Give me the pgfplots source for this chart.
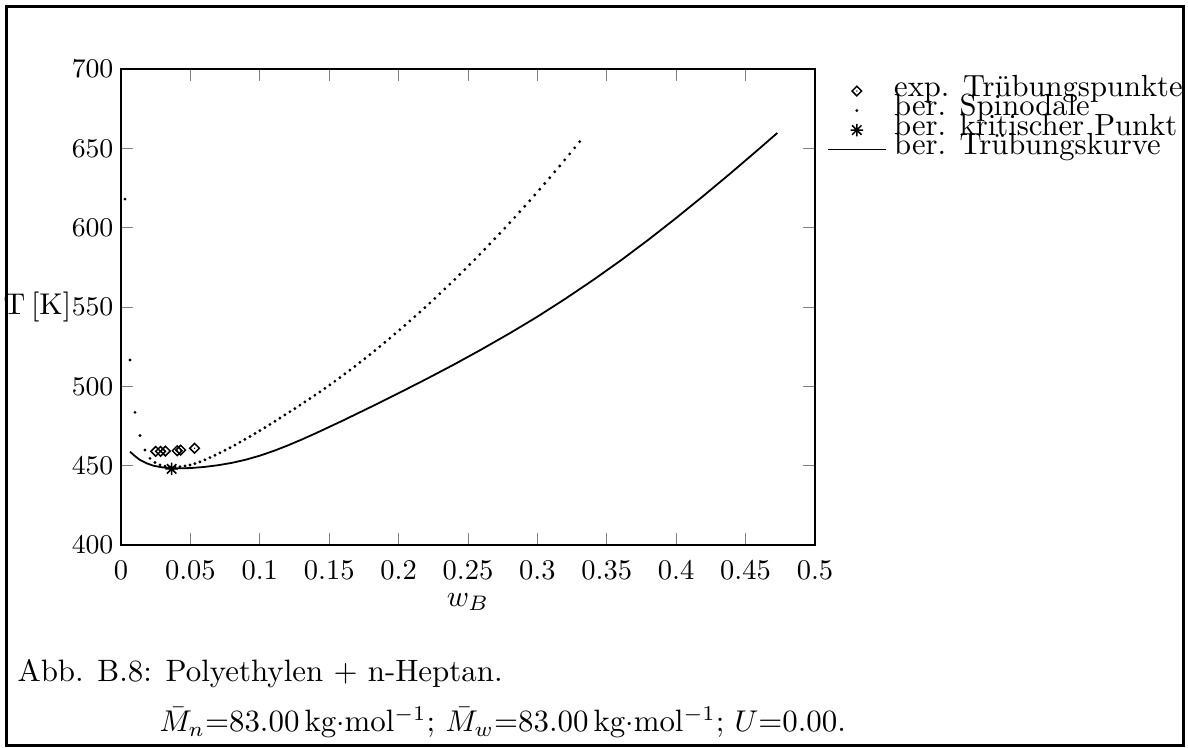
\documentclass[border=0pt]{standalone}
\usepackage{fontspec}
\usepackage{pgfplots}
\pgfplotsset{compat=1.18}

% gnuplot-like point types
\pgfdeclareplotmark{gpdiamond}{%
  \pgfpathmoveto{\pgfqpoint{0pt}{\pgfplotmarksize}}%
  \pgfpathlineto{\pgfqpoint{\pgfplotmarksize}{0pt}}%
  \pgfpathlineto{\pgfqpoint{0pt}{-\pgfplotmarksize}}%
  \pgfpathlineto{\pgfqpoint{-\pgfplotmarksize}{0pt}}%
  \pgfpathclose
  \pgfusepathqstroke
  \pgfpathcircle{\pgfpointorigin}{0.25pt}%
  \pgfusepathqfill}
\pgfdeclareplotmark{gpstar}{%
  \pgfpathmoveto{\pgfqpoint{-\pgfplotmarksize}{0pt}}\pgfpathlineto{\pgfqpoint{\pgfplotmarksize}{0pt}}%
  \pgfpathmoveto{\pgfqpoint{0pt}{-\pgfplotmarksize}}\pgfpathlineto{\pgfqpoint{0pt}{\pgfplotmarksize}}%
  \pgfpathmoveto{\pgfqpoint{-.75\pgfplotmarksize}{-.75\pgfplotmarksize}}\pgfpathlineto{\pgfqpoint{.75\pgfplotmarksize}{.75\pgfplotmarksize}}%
  \pgfpathmoveto{\pgfqpoint{-.75\pgfplotmarksize}{.75\pgfplotmarksize}}\pgfpathlineto{\pgfqpoint{.75\pgfplotmarksize}{-.75\pgfplotmarksize}}%
  \pgfusepathqstroke}

\begin{document}
\begin{tikzpicture}
\useasboundingbox (0,0) rectangle (396pt,-249.33pt);
\draw[line width=1pt] (2.2pt,-2.2pt) rectangle (394.6pt,-248.6pt);
\begin{axis}[
  at={(40.33pt,-181.67pt)}, anchor=south west,
  scale only axis, width=231.33pt, height=158.67pt,
  xmin=0, xmax=0.5, ymin=400, ymax=700,
  xtick={0,0.05,0.1,0.15,0.2,0.25,0.3,0.35,0.4,0.45,0.5},
  xticklabels={0,0.05,0.1,0.15,0.2,0.25,0.3,0.35,0.4,0.45,0.5},
  ytick={400,450,500,550,600,650,700},
  tick align=inside, major tick length=4pt,
  tick label style={font=\fontsize{9.5}{11}\selectfont},
  xticklabel style={yshift=-1.5pt},
  yticklabel style={xshift=1pt},
  xlabel={$w_B$}, ylabel={T\hspace{0.2em}[K]},
  xlabel style={font=\fontsize{10}{12}\selectfont},
  ylabel style={font=\fontsize{8.5}{10}\selectfont},
  every axis x label/.style={at={(axis description cs:0.5,0)}, anchor=center, yshift=-19pt},
  every axis y label/.style={at={(axis description cs:0,0.5)}, anchor=east, xshift=-16.4pt, inner sep=0pt},
  legend style={at={(axis description cs:1,1)}, anchor=north west, xshift=4pt, yshift=-4.1pt,
    draw=none, fill=none, inner sep=0pt, outer sep=0pt, row sep=0pt, column sep=2.5pt,
    font=\fontsize{10.2}{12}\selectfont,
    nodes={inner sep=0pt, text height=5pt, text depth=1.5pt}},
  legend cell align=left,
  legend image code/.code={\draw[mark repeat=2,mark phase=2,#1] plot coordinates {(0pt,0pt) (9.65pt,0pt) (19.3pt,0pt)};},
]
% exp. cloud points
\addplot[only marks, mark=gpdiamond, mark size=1.6pt, line width=0.5pt] coordinates {
  (0.025,459.0) (0.0285,459.0) (0.032,459.2) (0.0405,459.4) (0.043,459.8) (0.053,461.0)};
\addlegendentry{exp. Trübungspunkte}
% spinodal
\addplot[only marks, mark=*, mark size=0.25pt] coordinates {
  (0.0029,618) (0.0065,516.6) (0.0101,483.6) (0.0137,469.0) (0.0173,459.9) (0.0209,454.6)
  (0.0245,452.0) (0.0281,450.5) (0.0317,449.6) (0.0353,449.2) (0.0389,449.2) (0.0425,449.4)
  (0.0461,449.8) (0.0497,450.4) (0.0533,451.3) (0.0569,452.4) (0.0605,453.7) (0.0641,455.1)
  (0.0677,456.6) (0.0713,458.1) (0.0749,459.7) (0.0785,461.3) (0.0821,463.0) (0.0857,464.8)
  (0.0893,466.6) (0.0929,468.4) (0.0965,470.3) (0.1001,472.1) (0.1037,474.0) (0.1073,476.0)
  (0.1109,478.0) (0.1145,480.0) (0.1181,482.0) (0.1217,484.0) (0.1253,486.0) (0.1289,488.1)
  (0.1325,490.2) (0.1361,492.3) (0.1397,494.4) (0.1433,496.5) (0.1469,498.7) (0.1505,500.9)
  (0.1541,503.2) (0.1577,505.5) (0.1613,507.9) (0.1649,510.2) (0.1685,512.6) (0.1721,515.1)
  (0.1757,517.5) (0.1793,520.0) (0.1829,522.5) (0.1865,525.1) (0.1901,527.7) (0.1937,530.3)
  (0.1973,533.0) (0.2009,535.7) (0.2045,538.4) (0.2081,541.2) (0.2117,544.0) (0.2153,546.8)
  (0.2189,549.6) (0.2225,552.5) (0.2261,555.4) (0.2297,558.4) (0.2333,561.4) (0.2369,564.4)
  (0.2405,567.4) (0.2441,570.5) (0.2477,573.6) (0.2513,576.8) (0.2549,579.9) (0.2585,583.2)
  (0.2621,586.4) (0.2657,589.7) (0.2693,593.0) (0.2729,596.3) (0.2765,599.7) (0.2801,603.1)
  (0.2837,606.5) (0.2873,610.0) (0.2909,613.5) (0.2945,617.0) (0.2981,620.6) (0.3017,624.2)
  (0.3053,627.8) (0.3089,631.5) (0.3125,635.2) (0.3161,638.9) (0.3197,642.7) (0.3233,646.5)
  (0.3269,650.3) (0.3305,654.2)};
\addlegendentry{ber. Spinodale}
% critical point
\addplot[only marks, mark=gpstar, mark size=2.1pt, line width=0.5pt] coordinates {(0.0365,448.0)};
\addlegendentry{ber. kritischer Punkt}
% calculated cloud-point curve
\addplot[line width=0.6pt, no marks] coordinates {
  (0.0065,458.8) (0.0101,456.0) (0.0137,453.6) (0.0185,451.5) (0.0233,450.0) (0.030,448.9)
  (0.0365,448.4) (0.04,448.3) (0.05,448.5) (0.06,449.2) (0.07,450.3) (0.08,451.8)
  (0.09,453.8) (0.10,456.3) (0.11,459.3) (0.12,462.7) (0.13,466.4) (0.14,470.3)
  (0.15,474.4) (0.16,478.5) (0.18,487.0) (0.20,495.7) (0.22,504.6) (0.24,513.8)
  (0.26,523.4) (0.28,533.4) (0.30,543.9) (0.32,555.1) (0.34,566.9) (0.36,579.3)
  (0.38,592.4) (0.40,606.1) (0.42,620.3) (0.44,634.9) (0.46,649.9) (0.4729,659.7)};
\addlegendentry{ber. Trübungskurve}
\end{axis}
\node[anchor=base west, inner sep=0pt, font=\fontsize{10.3}{12}\selectfont] at (5.67pt,-227.2pt)
  {Abb. B.8: Polyethylen + n-Heptan.};
\node[anchor=base west, inner sep=0pt, font=\fontsize{10.3}{12}\selectfont] at (53pt,-243.9pt)
  {$\bar{M}_n$=83.00\,kg$\cdot$mol$^{-1}$; $\bar{M}_w$=83.00\,kg$\cdot$mol$^{-1}$; $U$=0.00.};
\end{tikzpicture}
\end{document}
